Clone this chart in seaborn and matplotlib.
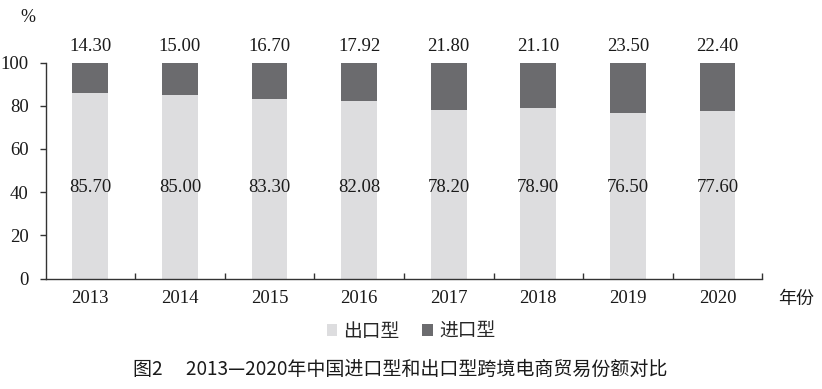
import matplotlib
matplotlib.use("Agg")
import matplotlib.pyplot as plt
import seaborn as sns
import pandas as pd
from matplotlib.patches import Patch

years = ["2013", "2014", "2015", "2016", "2017", "2018", "2019", "2020"]
export_share = [85.70, 85.00, 83.30, 82.08, 78.20, 78.90, 76.50, 77.60]
import_share = [14.30, 15.00, 16.70, 17.92, 21.80, 21.10, 23.50, 22.40]
export_labels = ["85.70", "85.00", "83.30", "82.08", "78.20", "78.90", "76.50", "77.60"]
import_labels = ["14.30", "15.00", "16.70", "17.92", "21.80", "21.10", "23.50", "22.40"]

sns.set_theme(style="white")
plt.rcParams['font.family'] = ['Liberation Serif', 'Noto Sans CJK SC']

df = pd.DataFrame({"year": years, "export": export_share, "import": import_share})
df["total"] = df["export"] + df["import"]

light = "#dddddf"
dark = "#6b6b6e"

fig = plt.figure(figsize=(8.22, 3.89), dpi=100)
ax = fig.add_axes([45.5/822, 110.5/389, (762.3-45.5)/822, 216/389])

sns.barplot(data=df, x="year", y="total", color=dark, width=0.4, saturation=1,
            linewidth=0, ax=ax)
sns.barplot(data=df, x="year", y="export", color=light, width=0.4, saturation=1,
            linewidth=0, ax=ax)

ax.set_xlim(-0.5, 7.5)
ax.set_ylim(0, 100)
ax.set_yticks([0, 20, 40, 60, 80, 100])
ax.set_yticklabels(["0", "20", "40", "60", "80", "100"], fontsize=13.5,
                   family='Liberation Serif')
ax.set_xticks(range(len(years)))
ax.set_xticklabels(years, fontsize=13.5, family='Liberation Serif')
ax.set_xticks([i + 0.5 for i in range(len(years))], minor=True)
ax.tick_params(axis='x', which='major', length=0, pad=8, colors='#1a1a1a')
ax.tick_params(axis='x', which='minor', direction='in', length=4, width=1,
               color='#333333', bottom=True)
ax.tick_params(axis='y', direction='out', length=4, width=1, color='#333333',
               left=True, pad=8, labelcolor='#1a1a1a')
ax.set_xlabel("")
ax.set_ylabel("")
for s in ["top", "right"]:
    ax.spines[s].set_visible(False)
for s in ["left", "bottom"]:
    ax.spines[s].set_color('#333333')
    ax.spines[s].set_linewidth(1)

for i in range(len(years)):
    ax.text(i, 42, export_labels[i], ha='center', va='center', fontsize=13.5,
            family='Liberation Serif', color='#1a1a1a')
    ax.text(i, 107.5, import_labels[i], ha='center', va='center', fontsize=13.5,
            family='Liberation Serif', color='#1a1a1a')

fig.text(28/822, 1 - 18/389, "%", ha='center', va='center', fontsize=13,
         family='Liberation Serif', color='#1a1a1a')
fig.text(796/822, 1 - 299/389, "年份", ha='center', va='center', fontsize=13,
         family=['Noto Sans CJK SC'], color='#1a1a1a')

handles = [Patch(facecolor=light, edgecolor='none', label="出口型"),
           Patch(facecolor=dark, edgecolor='none', label="进口型")]
fig.legend(handles=handles, loc='center', bbox_to_anchor=(411/822, 1 - 331/389),
           ncol=2, frameon=False, prop={'family': 'Noto Sans CJK SC', 'size': 13.5},
           handlelength=0.55, handleheight=0.55, handletextpad=0.35, columnspacing=1.2)

fig.text(400/822, 1 - 369/389, "图2\u3000 2013—2020年中国进口型和出口型跨境电商贸易份额对比",
         ha='center', va='center', fontsize=13.7, fontweight='medium',
         family=['Noto Sans CJK SC', 'DejaVu Sans'], color='#1a1a1a')

fig.savefig("out.png", dpi=100)
